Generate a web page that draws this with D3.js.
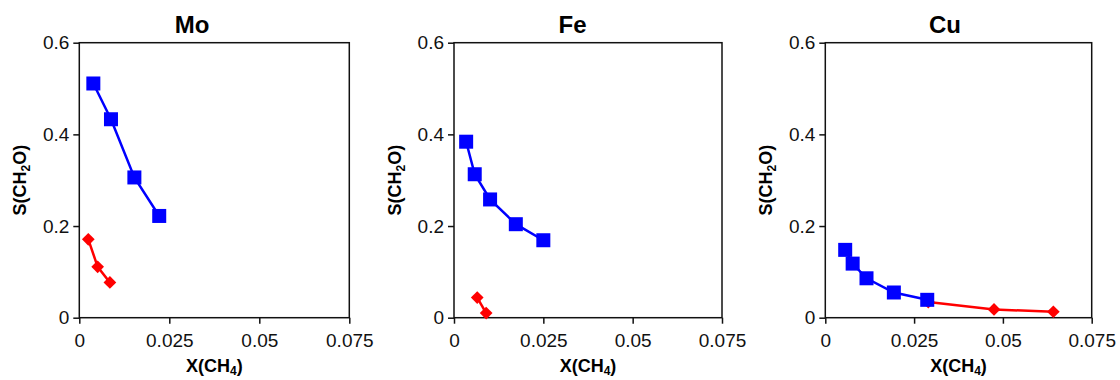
<!DOCTYPE html>
<html>
<head>
<meta charset="utf-8">
<script src="https://cdn.jsdelivr.net/npm/d3@7"></script>
<style>
  body { margin: 0; background: #fff; }
  svg { display: block; font-family: "Liberation Sans", Arial, sans-serif; }
</style>
</head>
<body>
<svg id="chart" width="1120" height="380"></svg>
<script>
// Panel names and axis ticks
const panelNames = ["Mo", "Fe", "Cu"];
const xTicks = [0, 0.025, 0.05, 0.075];
const yTicks = [0, 0.2, 0.4, 0.6];

// Blue squares series [X(CH4), S(CH2O)]
const moSquares = [[0.0039, 0.511], [0.0088, 0.433], [0.0153, 0.306], [0.0222, 0.222]];
const feSquares = [[0.0034, 0.384], [0.0058, 0.313], [0.0101, 0.258], [0.0173, 0.204], [0.0250, 0.169]];
const cuSquares = [[0.0056, 0.148], [0.0077, 0.118], [0.0116, 0.086], [0.0193, 0.055], [0.0287, 0.039]];

// Red diamonds series
const moDiamonds = [[0.0025, 0.171], [0.0051, 0.111], [0.0085, 0.077]];
const feDiamonds = [[0.0065, 0.044], [0.0090, 0.010]];
const cuDiamonds = [[0.0290, 0.034], [0.0475, 0.018], [0.0642, 0.013]];

const squaresByPanel = [moSquares, feSquares, cuSquares];
const diamondsByPanel = [moDiamonds, feDiamonds, cuDiamonds];

// Layout of each panel (plot area)
const layout = [
  { left: 79.3, width: 270, titleDx: 112.7 },
  { left: 454, width: 268, titleDx: 118.5 },
  { left: 825.3, width: 266.4, titleDx: 119.7 }
];
const plotTop = 42.7;
const plotBottom = 317.7;

const svg = d3.select("#chart");

panelNames.forEach((name, i) => {
  const L = layout[i];
  const xScale = d3.scaleLinear().domain([0, 0.075]).range([L.left, L.left + L.width]);
  const yScale = d3.scaleLinear().domain([0, 0.6]).range([plotBottom, plotTop]);
  const g = svg.append("g");

  // Plot frame
  g.append("rect")
    .attr("x", L.left)
    .attr("y", plotTop)
    .attr("width", L.width)
    .attr("height", plotBottom - plotTop)
    .attr("fill", "none")
    .attr("stroke", "#111")
    .attr("stroke-width", 1.5);

  // Axes
  const xAxis = d3.axisBottom(xScale)
    .tickValues(xTicks)
    .tickSize(6)
    .tickPadding(10)
    .tickFormat(d => d === 0 ? "0" : String(+d.toFixed(3)));
  const yAxis = d3.axisLeft(yScale)
    .tickValues(yTicks)
    .tickSize(6)
    .tickPadding(4)
    .tickFormat(d => d === 0 ? "0" : String(+d.toFixed(1)));

  const gx = g.append("g")
    .attr("transform", `translate(0,${plotBottom})`)
    .call(xAxis);
  const gy = g.append("g")
    .attr("transform", `translate(${L.left},0)`)
    .call(yAxis);

  [gx, gy].forEach(ax => {
    ax.select(".domain").remove();
    ax.selectAll(".tick line").attr("stroke", "#111").attr("stroke-width", 1.5);
    ax.selectAll(".tick text")
      .attr("fill", "#111")
      .style("font-size", "19px")
      .style("font-family", "'Liberation Sans', Arial, sans-serif");
  });

  // Title
  g.append("text")
    .attr("x", L.left + L.titleDx)
    .attr("y", 33)
    .attr("text-anchor", "middle")
    .style("font-size", "24px")
    .style("font-weight", "bold")
    .text(name);

  // X axis label
  const xl = g.append("text")
    .attr("x", L.left + L.width / 2)
    .attr("y", 372)
    .attr("text-anchor", "middle")
    .style("font-size", "18px")
    .style("font-weight", "bold");
  xl.append("tspan").text("X(CH");
  xl.append("tspan").attr("dy", 3).style("font-size", "12px").text("4");
  xl.append("tspan").attr("dy", -3).text(")");

  // Y axis label
  const yl = g.append("text")
    .attr("transform", `translate(${L.left - 53},${(plotTop + plotBottom) / 2}) rotate(-90)`)
    .attr("text-anchor", "middle")
    .style("font-size", "18px")
    .style("font-weight", "bold");
  yl.append("tspan").text("S(CH");
  yl.append("tspan").attr("dy", 4).style("font-size", "12px").text("2");
  yl.append("tspan").attr("dy", -4).text("O)");

  const line = d3.line().x(d => xScale(d[0])).y(d => yScale(d[1]));

  // Red diamonds (drawn first, under blue)
  const diamonds = diamondsByPanel[i];
  g.append("path")
    .attr("d", line(diamonds))
    .attr("fill", "none")
    .attr("stroke", "#ff0000")
    .attr("stroke-width", 2.5);
  g.selectAll(".diamond")
    .data(diamonds)
    .enter()
    .append("rect")
    .attr("class", "diamond")
    .attr("x", -4.5)
    .attr("y", -4.5)
    .attr("width", 9)
    .attr("height", 9)
    .attr("fill", "#ff0000")
    .attr("transform", d => `translate(${xScale(d[0])},${yScale(d[1])}) rotate(45)`);

  // Blue squares
  const squares = squaresByPanel[i];
  g.append("path")
    .attr("d", line(squares))
    .attr("fill", "none")
    .attr("stroke", "#0000ff")
    .attr("stroke-width", 2.5);
  g.selectAll(".square")
    .data(squares)
    .enter()
    .append("rect")
    .attr("class", "square")
    .attr("x", d => xScale(d[0]) - 7)
    .attr("y", d => yScale(d[1]) - 7)
    .attr("width", 14)
    .attr("height", 14)
    .attr("fill", "#0000ff");
});
</script>
</body>
</html>
